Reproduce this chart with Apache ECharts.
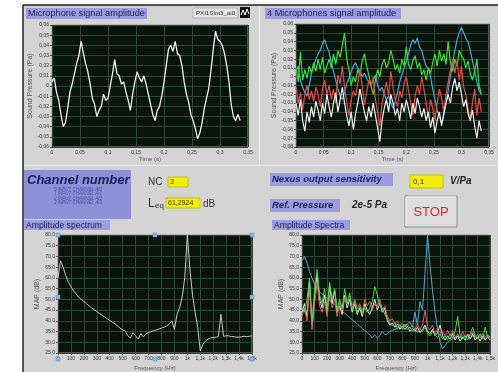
<!DOCTYPE html>
<html><head><meta charset="utf-8">
<script src="https://cdn.jsdelivr.net/npm/echarts/dist/echarts.min.js"></script>
<style>html,body{margin:0;padding:0;background:#fff}#c{width:498px;height:372px}</style>
</head><body><div id="c"></div>
<script>
// ---------- DATA ----------
const timeS = [0,.004,.008,.012,.016,.02,.024,.028,.032,.036,.04,.044,.048,.052,.056,.06,.064,.068,.072,.076,.08,.084,.088,.092,.096,.1,.104,.108,.112,.116,.12,.124,.128,.132,.136,.14,.144,.148,.152,.156,.16,.164,.168,.172,.176,.18,.184,.188,.192,.196,.2,.204,.208,.212,.216,.22,.224,.228,.232,.236,.24,.244,.248,.252,.256,.26,.264,.268,.272,.276,.28,.284,.288,.292,.296,.3,.304,.308,.312,.316,.32,.324,.328,.332,.336];

const micSignal = [0.004,0.008,-0.006,-0.014,-0.028,-0.04,-0.036,-0.022,-0.006,0.002,
0.012,0.022,0.03,0.044,0.032,0.022,0.014,0.002,-0.012,-0.018,
-0.03,-0.024,-0.02,-0.008,-0.014,-0.012,0.0,0.012,0.026,0.012,
0.01,0.002,0.004,-0.006,-0.014,-0.024,-0.008,0.004,0.014,0.008,
0.004,0.01,0.002,-0.008,-0.018,-0.028,-0.034,-0.024,-0.02,-0.01,
0.004,0.02,0.036,0.04,0.034,0.044,0.032,0.03,0.02,0.004,
-0.008,-0.016,-0.028,-0.034,-0.042,-0.052,-0.046,-0.036,-0.022,-0.012,
-0.002,0.016,0.036,0.054,0.046,0.044,0.04,0.032,0.02,0.004,
-0.018,-0.03,-0.034,-0.028,-0.034];

const sigBlue = [0.006,0.012,-0.004,-0.012,-0.018,-0.022,-0.01,0.004,0.012,0.02,
0.026,0.03,0.038,0.042,0.034,0.028,0.016,0.006,-0.004,-0.014,
-0.022,-0.026,-0.018,-0.008,-0.002,0.006,0.012,0.016,0.01,0.006,
0.0,0.004,-0.002,-0.006,-0.01,-0.004,0.002,-0.01,-0.016,-0.012,
-0.02,-0.026,-0.022,-0.03,-0.036,-0.028,-0.018,-0.006,0.002,0.01,
0.018,0.026,0.036,0.042,0.038,0.044,0.034,0.03,0.02,0.012,
0.01,0.0,-0.014,-0.026,-0.038,-0.046,-0.052,-0.044,-0.03,-0.016,
0.0,0.014,0.03,0.042,0.05,0.056,0.05,0.044,0.04,0.03,
0.018,0.006,-0.006,-0.016,-0.02];

const sigGreen = [0.01,-0.006,0.028,-0.004,0.008,-0.002,0.012,0.004,0.016,0.006,
0.02,0.008,0.022,0.004,0.012,0.02,0.01,0.026,0.014,0.03,
0.022,0.036,0.05,0.02,0.008,-0.01,0.0,-0.006,0.008,0.002,
0.018,0.026,0.012,0.002,-0.01,-0.02,-0.004,0.008,0.0,0.014,
0.02,0.01,0.016,0.03,0.02,0.008,0.014,0.004,0.02,0.012,
0.034,0.014,0.008,0.018,0.024,0.01,0.016,0.002,0.008,-0.004,
0.01,0.004,0.016,0.026,0.012,0.03,0.018,0.026,0.014,0.04,
0.016,0.006,0.02,0.012,0.03,0.024,0.02,0.01,0.018,0.004,
-0.004,0.006,0.02,-0.01,-0.02];

const sigRed = [-0.012,-0.03,-0.018,-0.038,-0.02,-0.01,-0.026,-0.016,-0.028,-0.012,
-0.02,-0.034,-0.014,-0.004,-0.02,-0.01,-0.026,-0.014,-0.03,0.002,
-0.008,0.012,-0.012,-0.03,-0.044,-0.026,-0.016,-0.022,-0.008,0.008,
-0.01,-0.032,-0.018,-0.004,-0.012,0.0,-0.026,-0.04,-0.056,-0.03,
-0.018,-0.006,-0.022,0.006,-0.012,-0.026,-0.034,-0.016,-0.024,-0.008,
0.0,-0.016,-0.03,-0.044,-0.022,-0.01,-0.02,0.0,-0.014,-0.03,
-0.046,-0.026,-0.036,-0.05,-0.03,-0.014,-0.024,-0.04,-0.02,-0.006,
0.008,0.02,0.004,0.018,-0.004,0.012,-0.012,-0.02,-0.036,-0.048,
-0.03,-0.014,-0.044,-0.024,-0.04];

const sigWhite = [-0.03,-0.044,-0.026,-0.05,-0.062,-0.04,-0.052,-0.034,-0.046,-0.028,
-0.038,-0.05,-0.03,-0.042,-0.02,-0.034,-0.046,-0.03,-0.018,-0.04,
-0.026,-0.012,-0.03,-0.044,-0.056,-0.04,-0.06,-0.042,-0.03,-0.014,
-0.028,-0.04,-0.05,-0.034,-0.046,-0.03,-0.044,-0.058,-0.074,-0.05,
-0.036,-0.026,-0.04,-0.02,-0.03,-0.044,-0.036,-0.05,-0.03,-0.04,
-0.026,-0.036,-0.048,-0.03,-0.042,-0.024,-0.034,-0.046,-0.036,-0.05,
-0.04,-0.058,-0.046,-0.064,-0.05,-0.04,-0.056,-0.042,-0.03,-0.02,
-0.03,-0.012,-0.002,-0.016,-0.006,-0.02,-0.034,-0.026,-0.042,-0.05,
-0.038,-0.056,-0.07,-0.05,-0.062];

const freqHz = [0,20,40,60,80,100,120,140,160,180,200,220,240,260,280,300,320,340,360,380,400,420,440,460,480,500,520,540,560,580,600,620,640,660,680,700,720,740,760,780,800,820,840,860,880,900,920,940,960,980,1000,1020,1040,1060,1080,1100,1120,1140,1160,1180,1200,1220,1240,1260,1280,1300,1320,1340,1360,1380,1400,1420,1440,1460,1480,1500];

const specMono = [60,68,65,61,58,56,54,52.5,51,50,
49,48,47,46,45.2,44.4,43.5,42.6,41.8,41,
40.2,39.4,38.6,37.6,36.6,35.8,35.2,33,32,34.5,
33,31.5,34,32.5,34,34.5,35,35.4,35.8,36.2,
36.6,37,37.6,38.4,40,36,43,46,51,60,
80,64,52,44,37,26,29,30.5,31.5,32,
32.2,32.4,32.6,43,32.8,33,33,32.6,32.6,32.4,
32.4,32.6,32.8,32.6,32.8,33];

const specBlue = [68,70,67,63,60,57,55,53.5,52.5,51.5,
50.5,49.5,48.5,47.5,46.5,45.5,44.5,43.5,42.5,41.5,
40.5,39.5,38.5,37.5,36.5,35.5,34.5,33.5,32,33.5,
32,33,35,33.5,34,35,35.5,36,36.5,37,
37.5,38,38.5,39.5,37,44,38,49,45,62,
80,66,54,44,36,30,27,28.5,30,31,
31.5,32,33,32,33,32.5,33,32,33,32.5,
32,33,32.5,32,33,32.5];

const specWhite = [44,48,42,58,38,50,62,50,46,52,
44,56,48,54,44,47,43,52,46,50,
44,48,43,46,42,48,45,43,46,50,
45,48,44,46,40,38,39,37,38.5,36,
37.5,36,37.5,35,36.5,35,37,34.5,36,38,
35,34,36,33,34.5,38,33,31,33,31.5,
34,31,33,30.5,32.5,31,33.5,31.5,34,31,
32.5,30.5,33,31,32.5,31];

const specRed = [42,46,40,55,36,48,58,47,44,49,
42,52,46,50,42,49,45,51,48,52,
46,50,46,48,44,50,47,49,45,48,
46,50,45,47,42,40,41,38.5,40,37.5,
39,37,38.5,36.5,38,36,38.5,36,38,45,
37,36,38,34,36,34.5,35,33,35.5,33,
35,32.5,34,32,35,32.5,34,33,35,32.5,
33.5,32,34,32.5,33.5,32];

const specGreen = [46,44,50,60,40,54,64,52,48,55,
45,58,50,55,45,50,46,55,48,53,
45,49,44,47,43,46,44,46,49,56,
52,47,46,43,41,39,37.5,39,36.5,38,
36,38.5,36,37,35,36.5,34.5,36,35,37,
34,33,35,33.5,32,34,31.5,33,31,34,
32,35,42,33,31.5,33,31,34,37,33,
32,34,31.5,37,32,33];

// ---------- CHART ----------
const FONT = '"Liberation Sans", Arial, sans-serif';
const chart = echarts.init(document.getElementById('c'), null, {renderer:'canvas'});

function fmtSmall(v){ return String(Math.round(v*100)/100).replace('.', ','); }
function fmtDb(v){ return v.toFixed(1).replace('.', ','); }
function fmtHz(v){ if (v < 1000) return String(v); if (v === 1000) return '1k'; return (v/1000).toFixed(1).replace('.', ',') + 'k'; }

const plotBg = '#08140a';
const gridLine = '#314636';
function gridDef(l,t,w,h){ return {left:l, top:t, width:w, height:h, show:true, backgroundColor:plotBg, borderColor:'#9a9a9a', borderWidth:1, containLabel:false}; }
function axisCommon(fmt){
  return {
    axisLine:{show:false},
    axisTick:{show:true, length:2, lineStyle:{color:'#555'}},
    axisLabel:{fontSize:5, color:'#333', fontFamily:FONT, margin:3, formatter:fmt},
    splitLine:{show:true, lineStyle:{color:gridLine, width:1}},
    nameTextStyle:{fontSize:6, color:'#555', fontFamily:FONT}
  };
}
function xAx(gi, min, max, interval, fmt, name, gap){
  return Object.assign(axisCommon(fmt), {type:'value', gridIndex:gi, min, max, interval, name, nameLocation:'middle', nameGap:gap});
}
function yAx(gi, min, max, interval, fmt, name, gap){
  const a = Object.assign(axisCommon(fmt), {type:'value', gridIndex:gi, min, max, interval, name, nameLocation:'middle', nameGap:gap, nameRotate:90});
  a.nameTextStyle = {fontSize:7, color:'#555', fontFamily:FONT};
  return a;
}
function line(xi, xs, ys, color, w){
  return {type:'line', xAxisIndex:xi, yAxisIndex:xi, showSymbol:false, silent:true, animation:false,
    lineStyle:{color, width:w||1}, data: xs.map((x,i)=>[x, ys[i]])};
}

// graphic helpers
function rect(x,y,w,h,fill,stroke,lw){ return {type:'rect', silent:true, z:5, shape:{x,y,width:w,height:h}, style:{fill, stroke:stroke||null, lineWidth:lw||1}}; }
function txt(x,y,s,font,fill,align){ return {type:'text', silent:true, z:6, x, y, style:{text:s, font, fill, textAlign:align||'left', textVerticalAlign:'middle', verticalAlign:'middle'}}; }
const lav = '#9c9ce0', navy = '#1c1c5c', yel = '#f2ee10';
const BI = (s)=>'italic bold ' + s + 'px ' + FONT;
const N = (s)=>s + 'px ' + FONT;

const elements = [
  // page frame
  {type:'rect', silent:true, z:-1, shape:{x:0,y:0,width:23,height:372}, style:{fill:'#ffffff'}},
  {type:'rect', silent:true, z:-1, shape:{x:0,y:0,width:498,height:5}, style:{fill:'#ffffff'}},
  {type:'line', silent:true, z:5, shape:{x1:23,y1:5,x2:498,y2:5}, style:{stroke:'#222', lineWidth:1.5}},
  {type:'line', silent:true, z:5, shape:{x1:23,y1:5,x2:23,y2:372}, style:{stroke:'#222', lineWidth:1.5}},
  {type:'line', silent:true, z:-1, shape:{x1:259.5,y1:6,x2:259.5,y2:166}, style:{stroke:'#ececec', lineWidth:1}},
  {type:'line', silent:true, z:-1, shape:{x1:24,y1:165.5,x2:498,y2:165.5}, style:{stroke:'#ececec', lineWidth:1}},
  // titles
  rect(26,8,121,11,lav), txt(28,13.8,'Microphone signal amplitude',N(9.2),navy),
  rect(265,8,136,11,lav), txt(267,13.8,'4 Microphones signal amplitude',N(9.2),navy),
  rect(24,220,86,10,lav), txt(26,225.3,'Amplitude spectrum',N(8.6),navy),
  rect(272,220,78,10,lav), txt(274,225.3,'Amplitude Spectra',N(8.6),navy),
  // PXI label
  rect(193,8,45,10,'#e6e6e6','#b4b4b4'), txt(215.5,13.2,'PXI1Slot3_ai0',N(6.2),'#333','center'),
  rect(240,7,10,11,'#111'),
  {type:'polyline', silent:true, z:7, shape:{points:[[241,15],[243,10],[245,15],[247,9],[249,14]]}, style:{stroke:'#fff', lineWidth:1, fill:null}},
  // Channel number
  rect(24,170,107,49,'#9090d8'),
  txt(27,180.5,'Channel number',BI(13),navy),
  txt(78,189.5,'0 INPUT CHANNEL AI0','italic 4.5px ' + FONT,'#4a4aa8','center'),
  txt(78,194,'1 INPUT CHANNEL AI1','italic 4.5px ' + FONT,'#4a4aa8','center'),
  txt(78,198.5,'2 INPUT CHANNEL AI2','italic 4.5px ' + FONT,'#4a4aa8','center'),
  txt(78,203,'3 INPUT CHANNEL AI3','italic 4.5px ' + FONT,'#4a4aa8','center'),
  // NC
  txt(148,182.5,'NC',N(10),'#333'),
  rect(168,177,20,10,yel,'#c8c400'), txt(170,182.2,'3',N(7),'#8a3a00'),
  // Leq
  txt(148,204,'L',N(12),'#333'), txt(155,206,'eq',N(8),'#333'),
  rect(166,198,34,10,yel,'#c8c400'), txt(168,203.2,'61,2924',N(7),'#4a3000'),
  txt(203,204,'dB',N(10),'#333'),
  // Nexus
  rect(270,173,123,13,lav), txt(272,179.8,'Nexus output sensitivity',BI(9.5),navy),
  rect(410,175,33,13,yel,'#c8c400'), txt(413,181.5,'0,1',N(8),'#333'),
  txt(450,181.5,'V/Pa',BI(10),'#222'),
  rect(270,199,70,13,lav), txt(272,205.8,'Ref. Pressure',BI(9.5),navy),
  txt(352,205.5,'2e-5 Pa',BI(10),'#222'),
  // STOP button
  rect(405,196,52,31,'#dedede','#8c8c8c'),
  {type:'polyline', silent:true, z:6, shape:{points:[[406,226],[406,197],[456,197]]}, style:{stroke:'#f6f6f6', lineWidth:1, fill:null}},
  txt(431,212,'STOP',N(13),'#e02828','center')
];
// selection handles on the bottom-left graph
[[58,235],[155,235],[252,235],[58,297],[252,297],[58,359],[155,359],[252,359]].forEach(p=>{
  elements.push({type:'rect', silent:true, z:8, shape:{x:p[0]-2,y:p[1]-2,width:4,height:4}, style:{fill:'#8ab8e4', stroke:'#5a88c0', lineWidth:0.5}});
});

const option = {
  backgroundColor:'#d4d4d4',
  animation:false,
  textStyle:{fontFamily:FONT},
  grid:[ gridDef(52,25,196,122), gridDef(296,24,193,123), gridDef(58,235,194,124), gridDef(302,235,197,124) ],
  xAxis:[
    xAx(0,0,0.35,0.05,fmtSmall,'Time (s)',9),
    xAx(1,0,0.35,0.05,fmtSmall,'Time (s)',9),
    xAx(2,0,1500,100,fmtHz,'Frequency (Hz)',12),
    xAx(3,0,1500,100,fmtHz,'Frequency (Hz)',12)
  ],
  yAxis:[
    yAx(0,-0.06,0.06,0.01,fmtSmall,'Sound Pressure (Pa)',17),
    yAx(1,-0.08,0.06,0.01,fmtSmall,'Sound Pressure (Pa)',17),
    yAx(2,25,80,5,fmtDb,'MAP (dB)',17),
    yAx(3,25,80,5,fmtDb,'MAP (dB)',17)
  ],
  series:[
    line(0,timeS,micSignal,'#f2f2f2',1.3),
    line(1,timeS,sigBlue,'#48a8e0',1.2),
    line(1,timeS,sigGreen,'#38e038',1.2),
    line(1,timeS,sigRed,'#e84848',1.2),
    line(1,timeS,sigWhite,'#f0f0f0',1.2),
    line(2,freqHz,specMono,'#c4ccc4',1),
    line(3,freqHz,specBlue,'#5aa6d2',1),
    line(3,freqHz,specWhite,'#e6e6e6',1),
    line(3,freqHz,specRed,'#e06060',1),
    line(3,freqHz,specGreen,'#48d848',1)
  ],
  graphic:{elements}
};
chart.setOption(option);
</script></body></html>
